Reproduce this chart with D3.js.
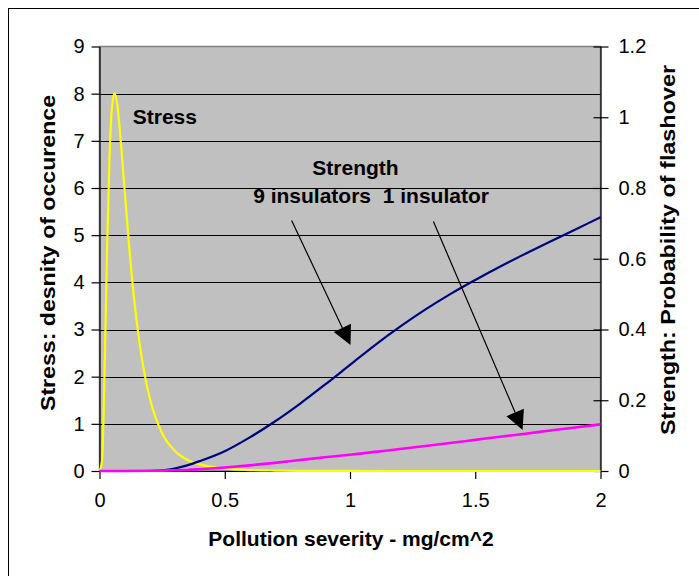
<!DOCTYPE html>
<html>
<head>
<meta charset="utf-8">
<script src="https://cdnjs.cloudflare.com/ajax/libs/d3/7.8.5/d3.min.js"></script>
<style>
   body { margin: 0; background: #fff; }
   svg { display: block; font-family: "Liberation Sans", Arial, sans-serif; }
</style>
</head>
<body>
<script>
"use strict"

// stress density (left axis)
const stress_x = [0, 0.01, 0.02, 0.03, 0.04, 0.05, 0.06, 0.07, 0.08, 0.09, 0.1, 0.12, 0.14, 0.16, 0.18, 0.2, 0.25, 0.3, 0.35, 0.4, 0.5, 0.6, 0.7, 0.8, 1.0, 1.2, 1.5, 2.0]
const stress_y = [0, 0.21, 2.05, 4.65, 6.65, 7.72, 8.01, 7.8, 7.3, 6.66, 5.97, 4.66, 3.56, 2.7, 2.05, 1.56, 0.8, 0.43, 0.24, 0.14, 0.05, 0.02, 0.009, 0.004, 0.001, 0, 0, 0]

// strength, probability of flashover (right axis)
const strength_x = [0, 0.1, 0.2, 0.25, 0.3, 0.35, 0.4, 0.5, 0.6, 0.7, 0.8, 0.9, 1.0, 1.1, 1.2, 1.3, 1.4, 1.5, 1.6, 1.7, 1.8, 1.9, 2.0]
const strength_9 = [0, 0, 0, 0.002, 0.007, 0.016, 0.028, 0.056, 0.095, 0.14, 0.19, 0.244, 0.3, 0.356, 0.408, 0.456, 0.5, 0.54, 0.578, 0.614, 0.649, 0.683, 0.717]
const strength_1 = [0, 0, 0.0005, 0.001, 0.002, 0.003, 0.005, 0.01, 0.016, 0.023, 0.031, 0.039, 0.046, 0.054, 0.062, 0.0705, 0.079, 0.088, 0.097, 0.1055, 0.1145, 0.123, 0.132]

const x_ticks = [0, 0.5, 1, 1.5, 2]
const left_ticks = [0, 1, 2, 3, 4, 5, 6, 7, 8, 9]
const right_ticks = [0, 0.2, 0.4, 0.6, 0.8, 1, 1.2]

// annotations, in x / left-axis units
const labels = [
   { text: 'Stress', x: 0.261, y: 7.36 },
   { text: 'Strength', x: 1.022, y: 6.28 },
   { text: '9 insulators  1 insulator', x: 1.084, y: 5.675 }
]
const arrow_9 = [[0.767, 5.31], [1.002, 2.67]]
const arrow_1 = [[1.333, 5.29], [1.689, 0.87]]

const W = 699, H = 576
const plot = { left: 99.5, right: 600.5, top: 46.5, bottom: 471 }

const svg = d3.select('body')
   .append('svg')
      .attr('width', W)
      .attr('height', H)

svg.append('rect')
   .attr('x', 8.5)
   .attr('y', 8.5)
   .attr('width', 740)
   .attr('height', 640)
   .attr('fill', '#fff')
   .attr('stroke', '#000')

const x = d3.scaleLinear([0, 2], [plot.left, plot.right])
const y_left = d3.scaleLinear([0, 9], [plot.bottom, plot.top])
const y_right = d3.scaleLinear([0, 1.2], [plot.bottom, plot.top])

svg.append('rect')
   .attr('x', plot.left)
   .attr('y', plot.top)
   .attr('width', plot.right - plot.left)
   .attr('height', plot.bottom - plot.top)
   .attr('fill', '#c0c0c0')
   .attr('stroke', '#808080')
   .attr('stroke-width', 1.5)

svg.append('g')
   .selectAll('line')
   .data(left_ticks.filter(d => d > 0 && d < 9))
   .enter()
   .append('line')
      .attr('x1', plot.left)
      .attr('x2', plot.right)
      .attr('y1', d => Math.round(y_left(d)) + 0.5)
      .attr('y2', d => Math.round(y_left(d)) + 0.5)
      .attr('stroke', '#000')

const styleAxis = g => {
   g.attr('font-family', '"Liberation Sans", Arial, sans-serif').attr('font-size', 20)
   g.select('.domain').attr('stroke', '#000').attr('stroke-width', 1.2)
   g.selectAll('.tick line').attr('stroke', '#000').attr('stroke-width', 1.2)
   g.selectAll('.tick text').attr('fill', '#000')
}

svg.append('g')
   .attr('transform', `translate(0, ${plot.bottom})`)
   .call(d3.axisBottom(x).tickValues(x_ticks).tickSizeInner(8).tickSizeOuter(0).tickPadding(14).tickFormat(d3.format('')))
   .call(styleAxis)

svg.append('g')
   .attr('transform', `translate(${plot.left}, 0)`)
   .call(d3.axisLeft(y_left).tickValues(left_ticks).tickSizeInner(8).tickSizeOuter(0).tickPadding(7).tickFormat(d3.format('')))
   .call(styleAxis)

svg.append('g')
   .attr('transform', `translate(${plot.right}, 0)`)
   .call(d3.axisRight(y_right).tickValues(right_ticks).tickSizeInner(8).tickSizeOuter(0).tickPadding(10).tickFormat(d3.format('')))
   .call(styleAxis)
   .call(g => g.selectAll('.tick line').attr('x1', -7))

const line_left = d3.line()
   .x(d => x(d[0]))
   .y(d => y_left(d[1]))
   .curve(d3.curveMonotoneX)

const line_right = d3.line()
   .x(d => x(d[0]))
   .y(d => y_right(d[1]))
   .curve(d3.curveMonotoneX)

svg.append('path')
   .datum(stress_x.map((v, i) => [v, stress_y[i]]))
   .attr('d', line_left)
   .attr('fill', 'none')
   .attr('stroke', '#ffff00')
   .attr('stroke-width', 2.2)

svg.append('path')
   .datum(strength_x.map((v, i) => [v, strength_9[i]]))
   .attr('d', line_right)
   .attr('fill', 'none')
   .attr('stroke', '#000080')
   .attr('stroke-width', 2.2)

svg.append('path')
   .datum(strength_x.map((v, i) => [v, strength_1[i]]))
   .attr('d', line_right)
   .attr('fill', 'none')
   .attr('stroke', '#ff00ff')
   .attr('stroke-width', 2.6)

svg.append('g')
   .selectAll('text')
   .data(labels)
   .enter()
   .append('text')
      .attr('x', d => x(d.x))
      .attr('y', d => y_left(d.y))
      .attr('text-anchor', 'middle')
      .attr('font-size', 21)
      .attr('font-weight', 'bold')
      .style('white-space', 'pre')
      .text(d => d.text)

const drawArrow = a => {
   const sx = x(a[0][0]), sy = y_left(a[0][1])
   const tx = x(a[1][0]), ty = y_left(a[1][1])
   const len = Math.hypot(tx - sx, ty - sy)
   const ux = (tx - sx) / len, uy = (ty - sy) / len
   const bx = tx - 19 * ux, by = ty - 19 * uy
   svg.append('line')
      .attr('x1', sx).attr('y1', sy)
      .attr('x2', bx).attr('y2', by)
      .attr('stroke', '#000')
      .attr('stroke-width', 1.2)
   svg.append('path')
      .attr('d', `M${tx},${ty}L${bx - 9.5 * uy},${by + 9.5 * ux}L${bx + 9.5 * uy},${by - 9.5 * ux}Z`)
      .attr('fill', '#000')
}
drawArrow(arrow_9)
drawArrow(arrow_1)

svg.append('text')
   .attr('x', (plot.left + plot.right) / 2 + 1)
   .attr('y', 546)
   .attr('text-anchor', 'middle')
   .attr('font-size', 21)
   .attr('font-weight', 'bold')
   .text('Pollution severity - mg/cm^2')

svg.append('text')
   .attr('transform', 'translate(55, 253) rotate(-90)')
   .attr('text-anchor', 'middle')
   .attr('font-size', 21)
   .attr('font-weight', 'bold')
   .attr('textLength', 316)
   .attr('lengthAdjust', 'spacingAndGlyphs')
   .text('Stress: desnity of occurence')

svg.append('text')
   .attr('transform', 'translate(675, 250) rotate(-90)')
   .attr('text-anchor', 'middle')
   .attr('font-size', 21)
   .attr('font-weight', 'bold')
   .attr('textLength', 370)
   .attr('lengthAdjust', 'spacingAndGlyphs')
   .text('Strength: Probability of flashover')
</script>
</body>
</html>
